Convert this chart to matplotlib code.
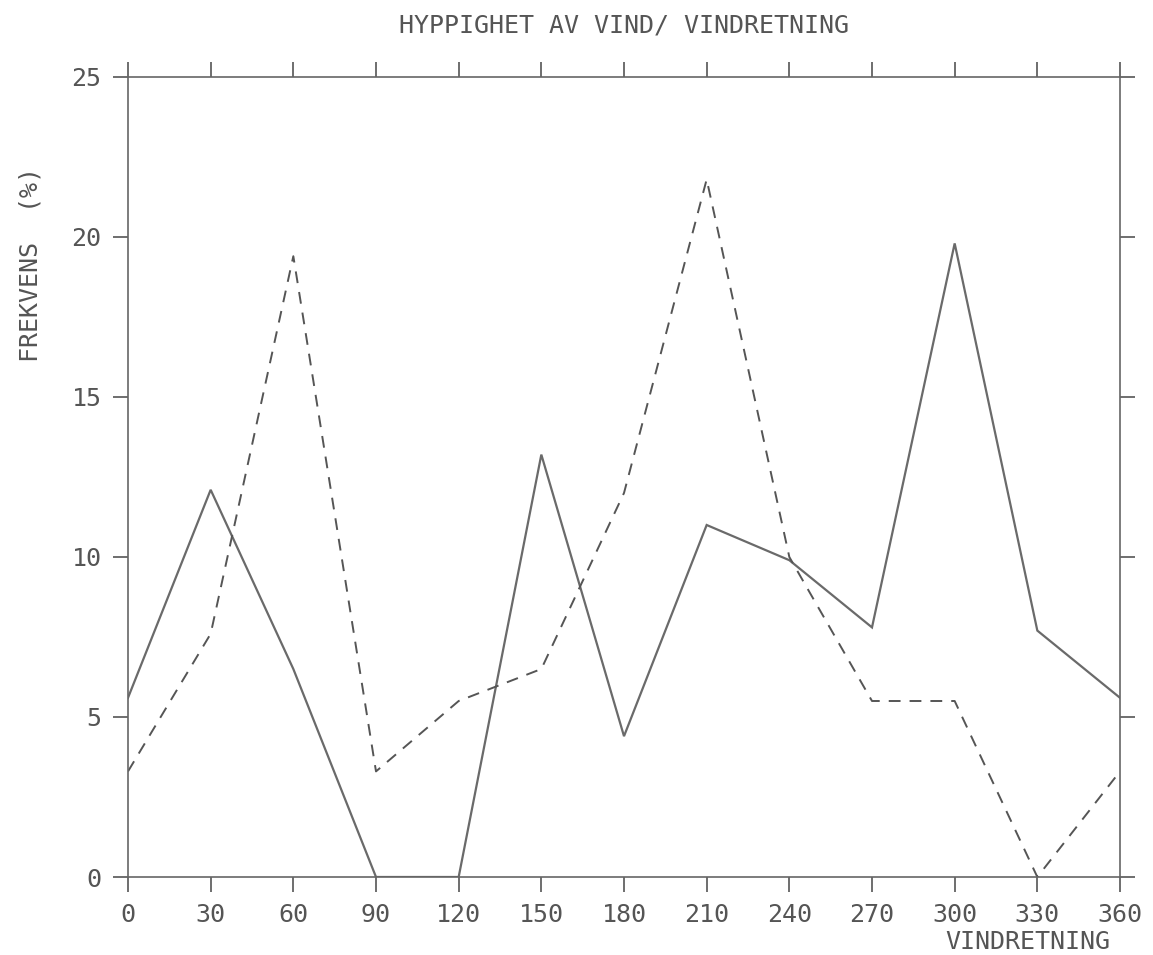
import matplotlib.pyplot as plt
import numpy as np

# vindretning (grader) og frekvens (%)
retning = [0, 30, 60, 90, 120, 150, 180, 210, 240, 270, 300, 330, 360]
frekvens_hel = [5.6, 12.1, 6.5, 0.0, 0.0, 13.2, 4.4, 11.0, 9.9, 7.8, 19.8, 7.7, 5.6]
frekvens_stiplet = [3.3, 7.6, 19.4, 3.3, 5.5, 6.5, 12.0, 21.8, 10.0, 5.5, 5.5, 0.0, 3.3]

x_ticks = retning
y_ticks = [0, 5, 10, 15, 20, 25]


def main():
    grey = '#555555'
    plt.rcParams['font.family'] = ['DejaVu Sans Mono']
    plt.rcParams['lines.scale_dashes'] = False

    fig = plt.figure(figsize=(11.53, 9.55), dpi=100)
    ax = fig.add_axes([128 / 1153, 1 - 877 / 955, 992 / 1153, 800 / 955])

    ax.plot(retning, frekvens_hel, color='#6a6a6a', lw=1.6, solid_joinstyle='miter')
    ax.plot(retning, frekvens_stiplet, color='#555555', lw=1.4, dashes=(8.5, 6.5))

    ax.set_xlim(0, 360)
    ax.set_ylim(0, 25)
    ax.set_xticks(x_ticks)
    ax.set_yticks(y_ticks)
    ax.tick_params(direction='out', length=11, width=1.2, color=grey,
                   labelcolor=grey, labelsize=18, pad=8,
                   top=True, right=True, labeltop=False, labelright=False)
    for s in ax.spines.values():
        s.set_color('#666666')
        s.set_linewidth(1.2)

    ax.set_title('HYPPIGHET AV VIND/ VINDRETNING', color=grey, fontsize=18, pad=32)
    ax.set_ylabel('FREKVENS  (%)', color=grey, fontsize=18)
    ax.yaxis.set_label_coords(-0.086, 0.765)
    ax.set_xlabel('VINDRETNING', color=grey, fontsize=18, ha='right')
    ax.xaxis.set_label_coords(0.99, -0.066)

    fig.savefig('out.png', dpi=100)
    plt.close(fig)


if __name__ == "__main__":
    main()
